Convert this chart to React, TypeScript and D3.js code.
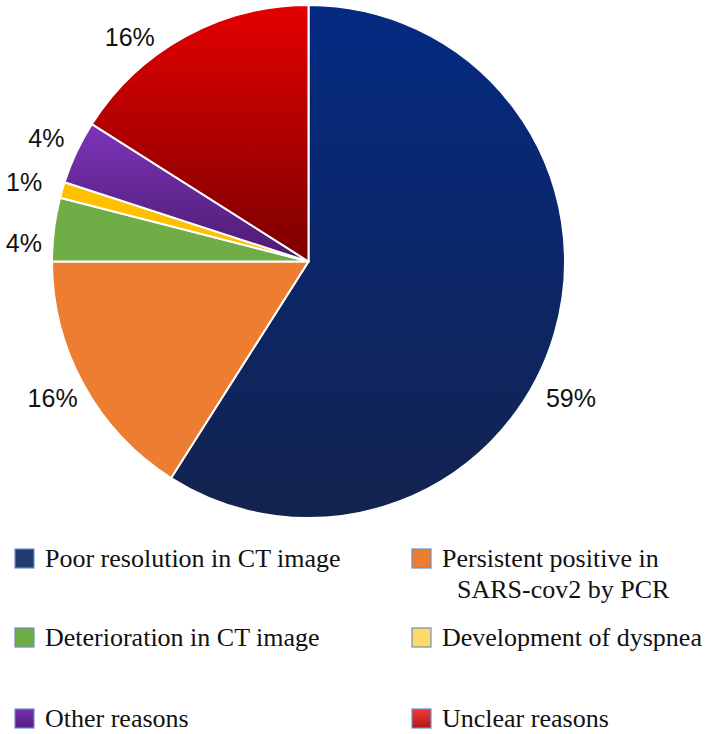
import React from "react";
import * as d3 from "d3";

const categories = [
  "Poor resolution in CT image",
  "Persistent positive in SARS-cov2 by PCR",
  "Deterioration in CT image",
  "Development of dyspnea",
  "Other reasons",
  "Unclear reasons",
];
const values = [59, 16, 4, 1, 4, 16];
const labels = ["59%", "16%", "4%", "1%", "4%", "16%"];
// slice gradient colours (top, bottom)
const sliceTop = ["#042a82", "#ed7d31", "#70ad47", "#ffc000", "#7c34b8", "#e40000"];
const sliceBottom = ["#13234f", "#ed7d31", "#70ad47", "#ffc000", "#4c1b70", "#7c0000"];
// legend swatch colours (top, bottom)
const legTop = ["#213c6e", "#ed7d31", "#70ad47", "#ffd966", "#7532aa", "#ee3a3a"];
const legBottom = ["#213c6e", "#ed7d31", "#70ad47", "#ffd966", "#561e86", "#b01818"];
// label offsets from the default label position
const labelDx = [-18, 0, 5, -4, 2, -38];
const labelDy = [55, -4, 18, 2, 1, 31];
// legend text lines
const legendLines = [
  ["Poor resolution in CT image"],
  ["Persistent positive in", "SARS-cov2 by PCR"],
  ["Deterioration in CT image"],
  ["Development of dyspnea"],
  ["Other reasons"],
  ["Unclear reasons"],
];

const W = 709;
const H = 734;
const cx = 308.5;
const cy = 261.5;
const R = 256.5;
const labelR = 292;

export default function App() {
  const pie = d3.pie<number>().sort(null).value((d) => d);
  const arcs = pie(values);
  const arcGen = d3.arc<d3.PieArcDatum<number>>().innerRadius(0).outerRadius(R);

  const colX = [15, 412];
  const rowY = [549, 628, 709];

  return (
    <svg width={W} height={H} style={{ position: "absolute", left: 0, top: 0 }}>
      <defs>
        {values.map((_, i) => (
          <linearGradient key={"g" + i} id={"sg" + i} x1="0" y1="0" x2="0" y2="1">
            <stop offset="0" stopColor={sliceTop[i]} />
            <stop offset="1" stopColor={sliceBottom[i]} />
          </linearGradient>
        ))}
        {values.map((_, i) => (
          <linearGradient key={"l" + i} id={"lg" + i} x1="0" y1="0" x2="0" y2="1">
            <stop offset="0" stopColor={legTop[i]} />
            <stop offset="1" stopColor={legBottom[i]} />
          </linearGradient>
        ))}
      </defs>
      <rect width={W} height={H} fill="#ffffff" />
      <g transform={`translate(${cx},${cy})`}>
        {arcs.map((a, i) => (
          <path key={i} d={arcGen(a) || ""} fill={`url(#sg${i})`} stroke="#ffffff" strokeWidth={2} strokeLinejoin="round" />
        ))}
        {arcs.map((a, i) => {
          const mid = (a.startAngle + a.endAngle) / 2;
          const x = Math.sin(mid) * labelR + labelDx[i];
          const y = -Math.cos(mid) * labelR + labelDy[i];
          return (
            <text
              key={"t" + i}
              x={x}
              y={y}
              textAnchor="middle"
              dominantBaseline="central"
              fontFamily="'Liberation Sans', Arial, Helvetica, sans-serif"
              fontSize={25}
              fill="#111111"
            >
              {labels[i]}
            </text>
          );
        })}
      </g>
      <g>
        {categories.map((c, i) => {
          const col = i % 2;
          const row = Math.floor(i / 2);
          const x = colX[col];
          const y = rowY[row];
          return (
            <g key={"leg" + i}>
              <rect x={x} y={y} width={19} height={19} fill={`url(#lg${i})`} stroke="#6d8fc4" strokeWidth={1.2} />
              {legendLines[i].map((line, j) => (
                <text
                  key={j}
                  x={x + 30 + (j > 0 ? 15 : 0)}
                  y={y + 18 + j * 31}
                  fontFamily="'Liberation Serif', 'Times New Roman', serif"
                  fontSize={26}
                  fill="#111111"
                >
                  {line}
                </text>
              ))}
            </g>
          );
        })}
      </g>
    </svg>
  );
}
